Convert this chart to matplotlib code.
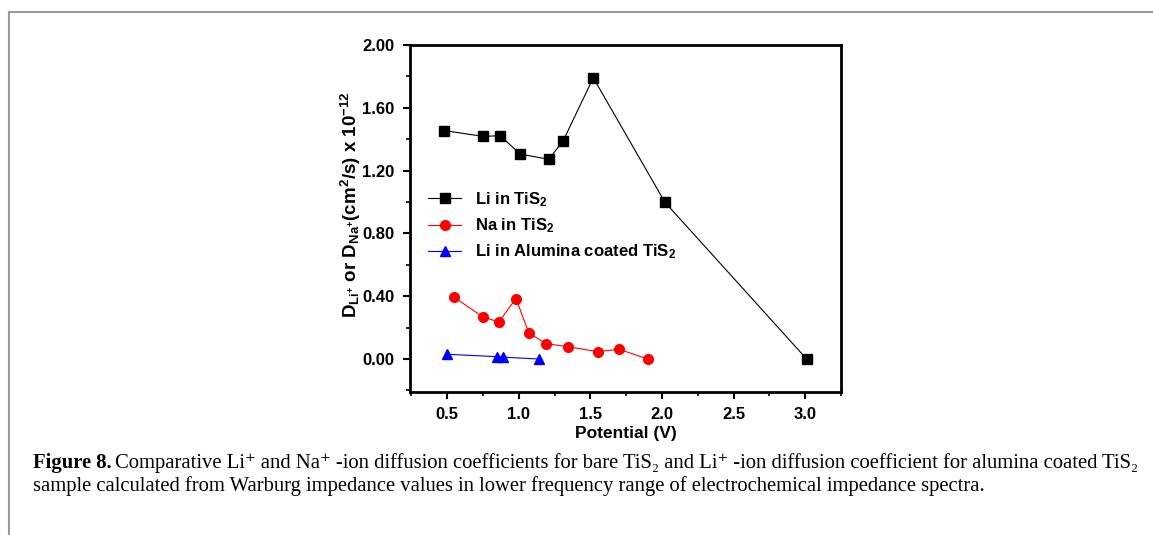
import matplotlib
matplotlib.use('Agg')
import matplotlib.pyplot as plt
from matplotlib.lines import Line2D

# data
li_v = [0.48, 0.75, 0.87, 1.01, 1.21, 1.31, 1.52, 2.02, 3.01]
li_d = [1.455, 1.418, 1.422, 1.305, 1.272, 1.391, 1.791, 0.999, 0.0]

na_v = [0.55, 0.75, 0.86, 0.98, 1.07, 1.19, 1.34, 1.55, 1.70, 1.90]
na_d = [0.392, 0.268, 0.236, 0.385, 0.166, 0.098, 0.079, 0.047, 0.062, 0.0]

al_v = [0.50, 0.85, 0.89, 1.14]
al_d = [0.030, 0.015, 0.012, 0.0]

y_ticks = [0.00, 0.40, 0.80, 1.20, 1.60, 2.00]
x_ticks = [0.5, 1.0, 1.5, 2.0, 2.5, 3.0]

plt.rcParams['font.family'] = ['Liberation Sans', 'DejaVu Sans']
plt.rcParams['font.weight'] = 'bold'
plt.rcParams['mathtext.fontset'] = 'custom'
plt.rcParams['mathtext.rm'] = 'Liberation Sans:bold'
plt.rcParams['mathtext.it'] = 'Liberation Sans:bold'
plt.rcParams['mathtext.bf'] = 'Liberation Sans:bold'
plt.rcParams['mathtext.default'] = 'regular'

fig = plt.figure(figsize=(11.53, 5.35), dpi=100)
fig.patch.set_facecolor('white')

# grey frame of the page
fig.add_artist(Line2D([9/1153, 9/1153], [0, 1 - 12/535], color='#9a9a9a', lw=1.5))
fig.add_artist(Line2D([9/1153, 1], [1 - 12/535, 1 - 12/535], color='#9a9a9a', lw=1.5))

ax = fig.add_axes([410/1153, 143/535, 431/1153, 347/535])

ax.plot(li_v, li_d, color='black', lw=0.8, marker='s', ms=6.5, label=r'Li in TiS$_2$')
ax.plot(na_v, na_d, color='red', lw=0.8, marker='o', ms=7, label=r'Na in TiS$_2$')
ax.plot(al_v, al_d, color='blue', lw=0.8, marker='^', ms=7.5, label=r'Li in Alumina coated TiS$_2$')

ax.set_xlim(0.24, 3.25)
ax.set_ylim(-0.21, 2.0)
ax.set_xticks(x_ticks)
ax.set_yticks(y_ticks)
ax.set_xticks([0.25 + 0.25 * i for i in range(13)], minor=True)
ax.set_yticks([-0.2 + 0.2 * i for i in range(12)], minor=True)
ax.set_xticklabels([f'{v:.1f}' for v in x_ticks])
ax.set_yticklabels([f'{v:.2f}' for v in y_ticks])

ax.tick_params(which='major', direction='out', length=5, width=1.5, labelsize=12, pad=6)
ax.tick_params(which='minor', direction='out', length=3, width=1.2)
for s in ax.spines.values():
    s.set_linewidth(2)

ax.set_xlabel('Potential (V)', fontsize=12.5, fontweight='bold', labelpad=3)
ax.set_ylabel(r'D$_{Li^{+}}$ or D$_{Na^{+}}$(cm$^{2}$/s) x 10$^{-12}$',
              fontsize=13.5, fontweight='bold')
ax.yaxis.set_label_coords(-0.109, 0.54)

ax.legend(loc='upper left', bbox_to_anchor=(0.015, 0.615), frameon=False,
          handlelength=2.0, labelspacing=0.45, borderaxespad=0.3,
          prop={'weight': 'bold', 'size': 12})

# caption, bold lead-in then plain text
serif = ['Liberation Serif', 'DejaVu Serif']
cap_lead = 'Figure 8.'
cap1 = ('Comparative Li\u207a and Na\u207a -ion diffusion coefficients for bare TiS\u2082 '
        'and Li\u207a -ion diffusion coefficient for alumina coated TiS\u2082')
cap2 = ('sample calculated from Warburg impedance values in lower frequency range of '
        'electrochemical impedance spectra.')
cap_fs = 14.85
t0 = fig.text(33/1153, 1 - 468/535, cap_lead, family=serif, weight='bold',
              fontsize=cap_fs, va='baseline')
fig.canvas.draw()
x_end = t0.get_window_extent().x1
fig.text((x_end + 3) / 1153, 1 - 468/535, cap1, family=serif, weight='normal',
         fontsize=cap_fs, va='baseline')
fig.text(33/1153, 1 - 491/535, cap2, family=serif, weight='normal',
         fontsize=cap_fs, va='baseline')

fig.savefig('out.png', dpi=100)
